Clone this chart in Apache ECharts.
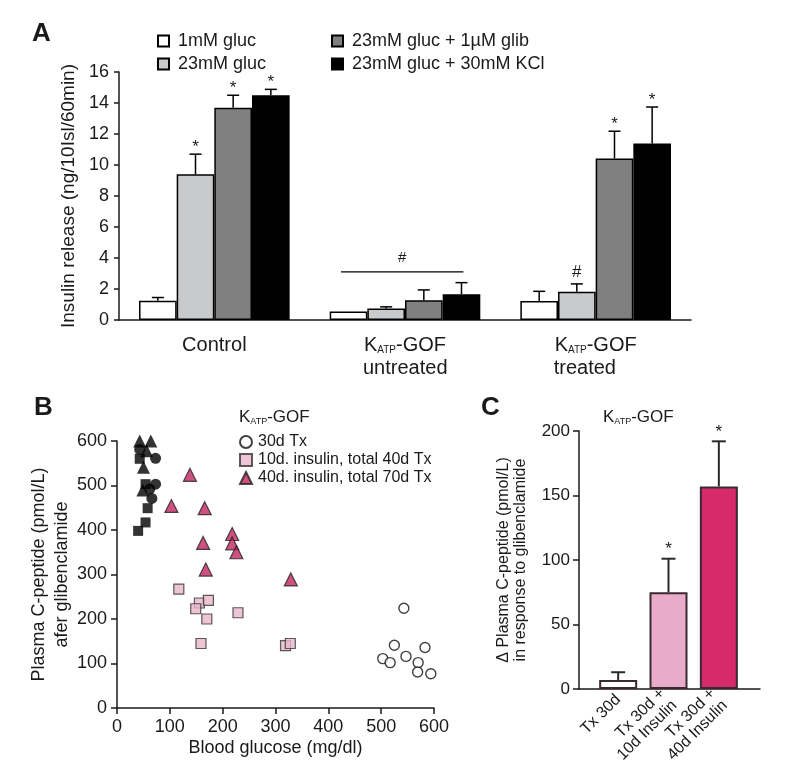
<!DOCTYPE html>
<html>
<head>
<meta charset="utf-8">
<script src="https://cdn.jsdelivr.net/npm/echarts@6/dist/echarts.min.js"></script>
<style>
html, body { margin: 0; padding: 0; background: #fff; }
#chart { width: 800px; height: 776px; }
</style>
</head>
<body>
<div id="chart"></div>
<script>
// ---- panel A: insulin release ----
let groupsA = ['Control', 'untreated', 'treated']
let namesA = ['1mM gluc', '23mM gluc', '23mM gluc + 1µM glib', '23mM gluc + 30mM KCl']
let gluc1 = [1.25, 0.55, 1.23]
let gluc23 = [9.4, 0.75, 1.83]
let glib = [13.7, 1.27, 10.42]
let kcl = [14.5, 1.66, 11.38]
let gluc1Err = [0.2, 0, 0.62]
let gluc23Err = [1.3, 0.1, 0.5]
let glibErr = [0.8, 0.67, 1.76]
let kclErr = [0.38, 0.75, 2.36]
let gluc1Mark = ['', '', '']
let gluc23Mark = ['*', '', '#']
let glibMark = ['*', '', '*']
let kclMark = ['*', '', '*']
let bracketA = [[1, 3.1, 4.0]]   // group, line level, '#' level

// ---- panel B: C-peptide vs glucose ----
let ctrlTriangles = [[43, 600], [64, 600], [56, 578], [50, 541], [49, 490]]
let ctrlCircles = [[43, 581], [73, 561], [62, 492], [73, 503], [66, 471]]
let ctrlSquares = [[43, 560], [54, 503], [58, 449], [54, 417], [40, 398]]
let tx30 = [[543, 224], [525, 141], [583, 136], [503, 111], [517, 102], [547, 116], [570, 102], [569, 81], [594, 77]]
let ins10 = [[117, 267], [156, 236], [149, 223], [173, 242], [170, 200], [229, 214], [159, 145], [319, 140], [328, 145]]
let ins40 = [[138, 524], [103, 454], [166, 449], [163, 371], [218, 391], [218, 370], [226, 350], [168, 311], [329, 289]]
let namesB = ['30d Tx', '10d. insulin, total 40d Tx', '40d. insulin, total 70d Tx']

// ---- panel C: delta C-peptide ----
let labelsC = ['Tx 30d', 'Tx 30d +\n10d Insulin', 'Tx 30d +\n40d Insulin']
let meanC = [7, 75, 157]
let errC = [6, 26, 35]
let marksC = ['', '*', '*']

let font = 'Liberation Sans, Arial, sans-serif'
let ink = '#1a1a1a'
let colorsA = ['#ffffff', '#c9cacc', '#808080', '#000000']
let colorsC = ['#ffffff', '#e8abc9', '#d62a6c']
let gapA = 0.21

function errorSeriesA(k, means, errs, marks) {
    return {
        type: 'custom', xAxisIndex: 0, yAxisIndex: 0, z: 5, silent: true,
        data: means.map((m, i) => [i, m, m + errs[i]]),
        renderItem: function (params, api) {
            let c0 = api.coord([api.value(0), api.value(1)])
            let c1 = api.coord([api.value(0), api.value(2)])
            let band = api.size([1, 0])[0]
            let group = band * (1 - gapA)
            let bw = group / 4
            let x = c0[0] - group / 2 + bw * (k + 0.5)
            let children = []
            if (api.value(2) > api.value(1)) {
                children.push({ type: 'line', shape: { x1: x, y1: c0[1], x2: x, y2: c1[1] }, style: { stroke: '#000', lineWidth: 1.5 } })
                children.push({ type: 'line', shape: { x1: x - 6, y1: c1[1], x2: x + 6, y2: c1[1] }, style: { stroke: '#000', lineWidth: 1.5 } })
            }
            let mark = marks[params.dataIndex]
            if (mark) {
                children.push({ type: 'text', style: { text: mark, x: x, y: c1[1] - (mark == '*' ? 7 : 12), align: 'center', verticalAlign: 'middle', textAlign: 'center', textVerticalAlign: 'middle', fontSize: 17, fontFamily: font, fill: ink } })
            }
            return { type: 'group', children: children }
        }
    }
}

let chart = echarts.init(document.getElementById('chart'))
let sub = { fontSize: 10, fontFamily: font, color: ink, fontWeight: 'normal', padding: [9, 0, 0, 0] }
let big = { fontSize: 20, fontFamily: font, color: ink, lineHeight: 23 }
let katp = {
    t: { fontSize: 17, fontFamily: font, color: ink, fontWeight: 'normal' },
    s: { fontSize: 9, fontFamily: font, color: ink, fontWeight: 'normal', padding: [8, 0, 0, 0] }
}

let option = {
    animation: false,
    backgroundColor: '#fff',
    textStyle: { fontFamily: font, color: ink },
    title: [
        { text: 'A', left: 27, top: 16, textStyle: { fontSize: 26, fontWeight: 'bold', color: ink, fontFamily: font } },
        { text: 'B', left: 29, top: 390, textStyle: { fontSize: 26, fontWeight: 'bold', color: ink, fontFamily: font } },
        { text: 'C', left: 476, top: 390, textStyle: { fontSize: 26, fontWeight: 'bold', color: ink, fontFamily: font } },
        { text: '{t|K}{s|ATP}{t|-GOF}', left: 234, top: 404, textStyle: { fontWeight: 'normal', rich: katp } },
        { text: '{t|K}{s|ATP}{t|-GOF}', left: 598, top: 404, textStyle: { fontWeight: 'normal', rich: katp } }
    ],
    legend: [
        {
            data: namesA.slice(0, 2), left: 152, top: 27, orient: 'vertical', itemWidth: 11, itemHeight: 11, itemGap: 5,
            icon: 'rect', textStyle: { fontSize: 18, color: ink, lineHeight: 18, padding: [0, 0, 0, 4] }, selectedMode: false
        },
        {
            data: namesA.slice(2), left: 326, top: 27, orient: 'vertical', itemWidth: 11, itemHeight: 11, itemGap: 5,
            icon: 'rect', textStyle: { fontSize: 18, color: ink, lineHeight: 18, padding: [0, 0, 0, 4] }, selectedMode: false
        },
        {
            data: namesB, left: 234, top: 429, orient: 'vertical', itemWidth: 12, itemHeight: 12, itemGap: 2,
            textStyle: { fontSize: 16, color: ink, lineHeight: 16, padding: [0, 0, 0, 1] }, selectedMode: false
        }
    ],
    grid: [
        { left: 119, top: 72, width: 572, height: 248 },
        { left: 117, top: 441, width: 317, height: 267 },
        { left: 593, top: 431, width: 151, height: 258 },
        { left: 579, top: 431, width: 181, height: 258 }
    ],
    xAxis: [
        {
            gridIndex: 0, type: 'category', data: groupsA,
            axisLine: { lineStyle: { color: ink, width: 1.5 } }, axisTick: { show: false },
            axisLabel: {
                margin: 14, color: ink, interval: 0,
                formatter: function (v) {
                    if (v == 'Control') return '{t|Control}'
                    return '{t|K}{s|ATP}{t|-GOF}\n{w|' + v + '}'
                },
                rich: { t: big, s: sub, w: { fontSize: 20, fontFamily: font, color: ink, width: 84, align: 'left', lineHeight: 23 } }
            }
        },
        {
            gridIndex: 1, type: 'value', min: 0, max: 600, interval: 100,
            axisLine: { lineStyle: { color: ink, width: 1.5 } },
            axisTick: { show: true, length: 6, lineStyle: { color: ink, width: 1.5 } },
            axisLabel: { fontSize: 18, color: ink, margin: 10 },
            splitLine: { show: false },
            name: 'Blood glucose (mg/dl)', nameLocation: 'middle', nameGap: 31,
            nameTextStyle: { fontSize: 18, color: ink }
        },
        {
            gridIndex: 2, type: 'category', data: labelsC,
            axisLine: { show: false }, axisTick: { show: false },
            axisLabel: { rotate: 45, fontSize: 16, color: ink, margin: 8, interval: 0, lineHeight: 17 }
        },
        {
            gridIndex: 3, type: 'value', min: 0, max: 1,
            axisLine: { lineStyle: { color: ink, width: 1.5 } },
            axisTick: { show: false }, axisLabel: { show: false }, splitLine: { show: false }
        }
    ],
    yAxis: [
        {
            gridIndex: 0, type: 'value', min: 0, max: 16, interval: 2,
            axisLine: { show: true, lineStyle: { color: ink, width: 1.5 } },
            axisTick: { show: true, length: 5, lineStyle: { color: ink, width: 1.5 } },
            axisLabel: { fontSize: 18, color: ink, margin: 10 },
            splitLine: { show: false },
            name: 'Insulin release (ng/10Isl/60min)', nameLocation: 'middle', nameGap: 41, nameRotate: 90,
            nameTextStyle: { fontSize: 19, color: ink }
        },
        {
            gridIndex: 1, type: 'value', min: 0, max: 600, interval: 100,
            axisLine: { show: true, lineStyle: { color: ink, width: 1.5 } },
            axisTick: { show: true, length: 6, lineStyle: { color: ink, width: 1.5 } },
            axisLabel: { fontSize: 18, color: ink, margin: 10 },
            splitLine: { show: false },
            name: 'Plasma C-peptide (pmol/L)\nafer glibenclamide', nameLocation: 'middle', nameGap: 42, nameRotate: 90,
            nameTextStyle: { fontSize: 18, color: ink, lineHeight: 23 }
        },
        {
            gridIndex: 2, type: 'value', min: 0, max: 200, interval: 50, offset: 14,
            axisLine: { show: true, lineStyle: { color: ink, width: 1.5 } },
            axisTick: { show: true, length: 6, lineStyle: { color: ink, width: 1.5 } },
            axisLabel: { fontSize: 17, color: ink, margin: 9 },
            splitLine: { show: false },
            name: 'Δ Plasma C-peptide (pmol/L)\nin response to glibenclamide', nameLocation: 'middle', nameGap: 50, nameRotate: 90,
            nameTextStyle: { fontSize: 16, color: ink, lineHeight: 17 }
        },
        { gridIndex: 3, type: 'value', min: 0, max: 1, show: false }
    ],
    series: [
        { name: namesA[0], type: 'bar', data: gluc1, barGap: 0, barCategoryGap: (gapA * 100) + '%', itemStyle: { color: colorsA[0], borderColor: '#000', borderWidth: 1.5 } },
        { name: namesA[1], type: 'bar', data: gluc23, barGap: 0, barCategoryGap: (gapA * 100) + '%', itemStyle: { color: colorsA[1], borderColor: '#000', borderWidth: 1.5 } },
        { name: namesA[2], type: 'bar', data: glib, barGap: 0, barCategoryGap: (gapA * 100) + '%', itemStyle: { color: colorsA[2], borderColor: '#000', borderWidth: 1.5 } },
        { name: namesA[3], type: 'bar', data: kcl, barGap: 0, barCategoryGap: (gapA * 100) + '%', itemStyle: { color: colorsA[3], borderColor: '#000', borderWidth: 1.5 } },
        errorSeriesA(0, gluc1, gluc1Err, gluc1Mark),
        errorSeriesA(1, gluc23, gluc23Err, gluc23Mark),
        errorSeriesA(2, glib, glibErr, glibMark),
        errorSeriesA(3, kcl, kclErr, kclMark),
        {
            type: 'custom', xAxisIndex: 0, yAxisIndex: 0, silent: true, data: bracketA,
            renderItem: function (params, api) {
                let c = api.coord([api.value(0), api.value(1)])
                let h = api.coord([api.value(0), api.value(2)])
                let group = api.size([1, 0])[0] * (1 - gapA)
                let bw = group / 4
                let x1 = c[0] - group / 2 + bw * 0.3
                let x2 = c[0] + group / 2 - bw * 0.45
                return {
                    type: 'group', children: [
                        { type: 'line', shape: { x1: x1, y1: c[1], x2: x2, y2: c[1] }, style: { stroke: '#000', lineWidth: 1.2 } },
                        { type: 'text', style: { text: '#', x: (x1 + x2) / 2, y: h[1], align: 'center', verticalAlign: 'middle', textAlign: 'center', textVerticalAlign: 'middle', fontSize: 15, fontFamily: font, fill: ink } }
                    ]
                }
            }
        },
        // panel B
        { name: 'ctrl triangles', type: 'scatter', xAxisIndex: 1, yAxisIndex: 1, data: ctrlTriangles, symbol: 'triangle', symbolSize: 13, itemStyle: { color: '#000' } },
        { name: 'ctrl circles', type: 'scatter', xAxisIndex: 1, yAxisIndex: 1, data: ctrlCircles, symbol: 'circle', symbolSize: 11, itemStyle: { color: '#000' } },
        { name: 'ctrl squares', type: 'scatter', xAxisIndex: 1, yAxisIndex: 1, data: ctrlSquares, symbol: 'rect', symbolSize: 10, itemStyle: { color: '#000' } },
        { name: namesB[0], type: 'scatter', xAxisIndex: 1, yAxisIndex: 1, data: tx30, symbol: 'circle', symbolSize: 10, itemStyle: { color: '#fff', borderColor: '#111', borderWidth: 1.4 } },
        { name: namesB[1], type: 'scatter', xAxisIndex: 1, yAxisIndex: 1, data: ins10, symbol: 'rect', symbolSize: 10, itemStyle: { color: '#e8b6ca', borderColor: '#333', borderWidth: 1.2 } },
        { name: namesB[2], type: 'scatter', xAxisIndex: 1, yAxisIndex: 1, data: ins40, symbol: 'triangle', symbolSize: 13, itemStyle: { color: '#c2255f', borderColor: '#222', borderWidth: 1.2 } },
        // panel C
        {
            type: 'bar', xAxisIndex: 2, yAxisIndex: 2, barWidth: 38,
            data: meanC.map((v, i) => ({ value: v, itemStyle: { color: colorsC[i] } })),
            itemStyle: { borderColor: '#3a2a30', borderWidth: 2 }
        },
        {
            type: 'custom', xAxisIndex: 2, yAxisIndex: 2, z: 5, silent: true,
            data: meanC.map((m, i) => [i, m, m + errC[i]]),
            renderItem: function (params, api) {
                let c0 = api.coord([api.value(0), api.value(1)])
                let c1 = api.coord([api.value(0), api.value(2)])
                let x = c0[0]
                let children = [
                    { type: 'line', shape: { x1: x, y1: c0[1], x2: x, y2: c1[1] }, style: { stroke: '#2a2a2a', lineWidth: 2 } },
                    { type: 'line', shape: { x1: x - 7, y1: c1[1], x2: x + 7, y2: c1[1] }, style: { stroke: '#2a2a2a', lineWidth: 2 } }
                ]
                let mark = marksC[params.dataIndex]
                if (mark) {
                    children.push({ type: 'text', style: { text: mark, x: x, y: c1[1] - 9, align: 'center', verticalAlign: 'middle', textAlign: 'center', textVerticalAlign: 'middle', fontSize: 17, fontFamily: font, fill: ink } })
                }
                return { type: 'group', children: children }
            }
        }
    ]
}
chart.setOption(option)
</script>
</body>
</html>
